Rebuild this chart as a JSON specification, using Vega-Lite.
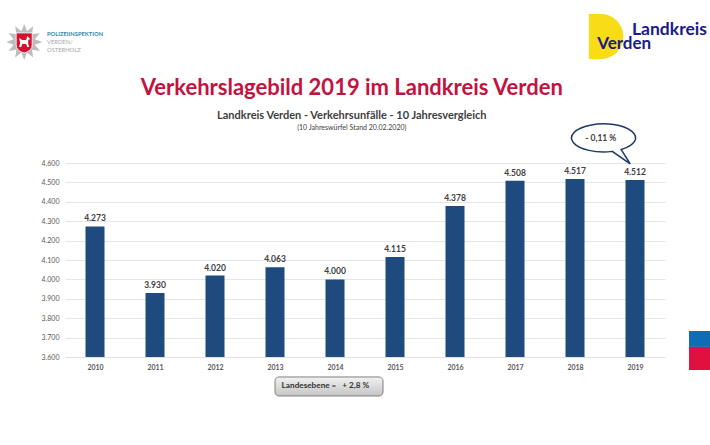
{
  "$schema": "https://vega.github.io/schema/vega-lite/v6.json",
  "autosize": "none",
  "width": 600,
  "height": 194,
  "padding": {"left": 65, "top": 163, "right": 45, "bottom": 88},
  "background": "white",
  "config": {"view": {"stroke": null}},
  "data": {
    "values": [
      {"year": 2010, "level": 4273, "label": "4.273"},
      {"year": 2011, "level": 3930, "label": "3.930"},
      {"year": 2012, "level": 4020, "label": "4.020"},
      {"year": 2013, "level": 4063, "label": "4.063"},
      {"year": 2014, "level": 4000, "label": "4.000"},
      {"year": 2015, "level": 4115, "label": "4.115"},
      {"year": 2016, "level": 4378, "label": "4.378"},
      {"year": 2017, "level": 4508, "label": "4.508"},
      {"year": 2018, "level": 4517, "label": "4.517"},
      {"year": 2019, "level": 4512, "label": "4.512"}
    ]
  },
  "encoding": {
    "x": {
      "field": "year",
      "type": "quantitative",
      "title": null,
      "scale": {"domain": [2009.5, 2019.5], "nice": false, "zero": false, "padding": 0},
      "axis": {
        "values": [2010, 2011, 2012, 2013, 2014, 2015, 2016, 2017, 2018, 2019],
        "format": "d",
        "grid": false,
        "ticks": false,
        "domainColor": "#e0e0e0",
        "labelFont": "Lato",
        "labelFontSize": 7,
        "labelFontWeight": "bold",
        "labelColor": "#595959",
        "labelPadding": 6
      }
    },
    "y": {
      "field": "level",
      "type": "quantitative",
      "title": null,
      "stack": null,
      "scale": {"domain": [3600, 4600], "nice": false, "zero": false},
      "axis": {
        "values": [3600, 3700, 3800, 3900, 4000, 4100, 4200, 4300, 4400, 4500, 4600],
        "labelExpr": "replace(format(datum.value, ',d'), ',', '.')",
        "domain": false,
        "ticks": false,
        "gridColor": "#e6e6e6",
        "labelFont": "Lato",
        "labelFontSize": 7,
        "labelColor": "#595959",
        "labelPadding": 6
      }
    }
  },
  "layer": [
    {
      "mark": {"type": "bar", "orient": "vertical", "size": 19, "color": "#1E4A7E"}
    },
    {
      "mark": {"type": "text", "baseline": "bottom", "dy": -3, "font": "Lato", "fontSize": 8.5, "fontWeight": "bold", "color": "#404040"},
      "encoding": {"text": {"field": "label"}}
    },
    {
      "data": {"values": [{"year": 2014.28, "level": 4987, "label": "Verkehrslagebild 2019 im Landkreis Verden"}]},
      "mark": {"type": "text", "font": "Lato", "fontSize": 22, "fontWeight": "bold", "color": "#C4123F"},
      "encoding": {"text": {"field": "label"}}
    },
    {
      "data": {"values": [{"year": 2018.47, "level": 4729}]},
      "mark": {
        "type": "point",
        "filled": true,
        "size": 4,
        "opacity": 1,
        "fill": "white",
        "stroke": "#1F3864",
        "strokeWidth": 1.5,
        "shape": "M18,11.6 L27,26 L9,13.4 A32,14 0 1 1 18,11.6 Z"
      }
    },
    {
      "data": {"values": [{"year": 2018.43, "level": 4729, "label": "- 0,11 %"}]},
      "mark": {"type": "text", "font": "Lato", "fontSize": 8.5, "fontWeight": "bold", "color": "#404040"},
      "encoding": {"text": {"field": "label"}}
    },
    {
      "data": {"values": [{"year": 2014.28, "level": 4842, "label": "Landkreis Verden - Verkehrsunfälle - 10 Jahresvergleich"}]},
      "mark": {"type": "text", "font": "Lato", "fontSize": 11, "fontWeight": "bold", "color": "#404040"},
      "encoding": {"text": {"field": "label"}}
    },
    {
      "data": {"values": [{"year": 2014.28, "level": 4780, "label": "(10 Jahreswürfel Stand 20.02.2020)"}]},
      "mark": {"type": "text", "font": "Lato", "fontSize": 7, "color": "#404040"},
      "encoding": {"text": {"field": "label"}}
    },
    {
      "data": {"values": [{"year": 2013, "year2": 2014.8, "level": 3497, "level2": 3399}]},
      "mark": {
        "type": "rect",
        "cornerRadius": 4,
        "stroke": "#7f7f7f",
        "strokeWidth": 1,
        "fill": {
          "gradient": "linear",
          "x1": 0, "y1": 0, "x2": 0, "y2": 1,
          "stops": [{"offset": 0, "color": "#f2f2f2"}, {"offset": 1, "color": "#c4c4c4"}]
        }
      },
      "encoding": {"x2": {"field": "year2"}, "y2": {"field": "level2"}}
    },
    {
      "data": {"values": [{"year": 2013.84, "level": 3448, "label": "Landesebene =\u00a0\u00a0\u00a0+ 2,8 %"}]},
      "mark": {"type": "text", "font": "Lato", "fontSize": 8.2, "fontWeight": "bold", "color": "#333333"},
      "encoding": {"text": {"field": "label"}}
    },
    {
      "data": {"values": [{"year": 2019.9, "year2": 2020.25, "level": 3734, "level2": 3652}]},
      "mark": {"type": "rect", "color": "#0F6DB3"},
      "encoding": {"x2": {"field": "year2"}, "y2": {"field": "level2"}}
    },
    {
      "data": {"values": [{"year": 2019.9, "year2": 2020.25, "level": 3652, "level2": 3533}]},
      "mark": {"type": "rect", "color": "#E0103F"},
      "encoding": {"x2": {"field": "year2"}, "y2": {"field": "level2"}}
    },
    {
      "data": {"values": [{"year": 2008.82, "level": 5224}]},
      "mark": {
        "type": "point",
        "filled": true,
        "size": 4,
        "opacity": 1,
        "color": "#bdbdbd",
        "shape": "M0,-18 L2.8,-10.6 L9,-15.6 L7.8,-7.8 L15.6,-9 L10.6,-2.8 L18,0 L10.6,2.8 L15.6,9 L7.8,7.8 L9,15.6 L2.8,10.6 L0,18 L-2.8,10.6 L-9,15.6 L-7.8,7.8 L-15.6,9 L-10.6,2.8 L-18,0 L-10.6,-2.8 L-15.6,-9 L-7.8,-7.8 L-9,-15.6 L-2.8,-10.6 Z"
      }
    },
    {
      "data": {"values": [{"year": 2008.82, "level": 5224}]},
      "mark": {
        "type": "point",
        "filled": true,
        "size": 4,
        "opacity": 1,
        "fill": "#D5112F",
        "stroke": "white",
        "strokeWidth": 0.8,
        "shape": "M-8,-9 L8,-9 L8,3 Q8,9 0,11 Q-8,9 -8,3 Z"
      }
    },
    {
      "data": {"values": [{"year": 2008.82, "level": 5224}]},
      "mark": {
        "type": "point",
        "filled": true,
        "size": 4,
        "opacity": 1,
        "color": "white",
        "shape": "M-5,-4 L-2,-2 L2,-2 L3,-6 L6,-3 L4,-2 L4,2 L5,5 L3,5 L2,2 L-2,2 L-3,5 L-5,5 L-4,1 Z"
      }
    },
    {
      "data": {"values": [{"year": 2009.2, "level": 5265, "label": "POLIZEIINSPEKTION"}]},
      "mark": {"type": "text", "align": "left", "font": "Lato", "fontSize": 5.8, "fontWeight": "bold", "color": "#2E86A8"},
      "encoding": {"text": {"field": "label"}}
    },
    {
      "data": {
        "values": [
          {"year": 2009.2, "level": 5224, "label": "VERDEN/"},
          {"year": 2009.2, "level": 5185, "label": "OSTERHOLZ"}
        ]
      },
      "mark": {"type": "text", "align": "left", "font": "Lato", "fontSize": 5.8, "color": "#a6a6a6"},
      "encoding": {"text": {"field": "label"}}
    },
    {
      "data": {"values": [{"year": 2018.23, "level": 5252}]},
      "mark": {
        "type": "point",
        "filled": true,
        "size": 4,
        "opacity": 1,
        "color": "#F8DC15",
        "shape": "M0,-22.5 L12,-22.5 A22.5,22.5 0 0 1 12,22.5 L0,22.5 Z"
      }
    },
    {
      "data": {"values": [{"year": 2018.95, "level": 5260, "label": "Landkreis"}]},
      "mark": {"type": "text", "align": "left", "baseline": "alphabetic", "font": "Lato", "fontSize": 17.5, "fontWeight": "bold", "color": "#1A1A8C"},
      "encoding": {"text": {"field": "label"}}
    },
    {
      "data": {"values": [{"year": 2018.37, "level": 5188, "label": "Verden"}]},
      "mark": {"type": "text", "align": "left", "baseline": "alphabetic", "font": "Lato", "fontSize": 17, "fontWeight": "bold", "color": "#1A1A8C"},
      "encoding": {"text": {"field": "label"}}
    }
  ]
}
